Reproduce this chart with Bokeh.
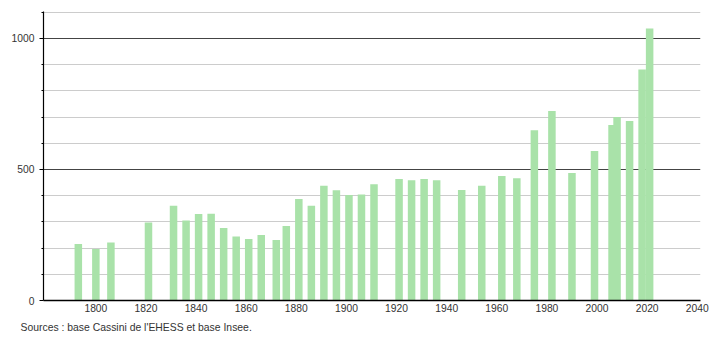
from bokeh.plotting import figure
from bokeh.models import FixedTicker, Range1d, Title
from bokeh.embed import file_html
from bokeh.resources import INLINE

years = [1793, 1800, 1806, 1821, 1831, 1836, 1841, 1846, 1851, 1856, 1861, 1866,
         1872, 1876, 1881, 1886, 1891, 1896, 1901, 1906, 1911, 1921, 1926, 1931,
         1936, 1946, 1954, 1962, 1968, 1975, 1982, 1990, 1999, 2006, 2008, 2013,
         2018, 2021]
population = [216, 197, 221, 298, 362, 305, 330, 331, 277, 244, 235, 250,
              231, 284, 387, 362, 438, 421, 403, 405, 444, 464, 459, 464,
              459, 422, 438, 475, 467, 650, 723, 487, 571, 670, 700, 685,
              882, 1038]
x_ticks = [1800, 1820, 1840, 1860, 1880, 1900, 1920, 1940, 1960, 1980, 2000, 2020, 2040]
y_ticks = [0, 500, 1000]
y_minor = [100, 200, 300, 400, 600, 700, 800, 900, 1100]
source_text = "Sources : base Cassini de l'EHESS et base Insee."

FONT = "Liberation Sans"

p = figure(width=710, height=340, output_backend="svg", toolbar_location=None,
           x_range=Range1d(1779.1, 2041.3), y_range=Range1d(0, 1103),
           min_border_left=43, min_border_right=10, min_border_top=11,
           min_border_bottom=40)
p.outline_line_color = None
p.background_fill_color = "white"
p.border_fill_color = "white"

p.vbar(x=years, top=population, width=3.0, fill_color="#a9e2a9",
       line_color=None)

# x axis
p.xaxis.ticker = FixedTicker(ticks=x_ticks)
p.xaxis.major_tick_out = 0
p.xaxis.major_tick_in = 0
p.xaxis.minor_tick_out = 0
p.xaxis.minor_tick_in = 0
p.xaxis.axis_line_color = "black"
p.xaxis.axis_line_width = 1.5
p.xaxis.major_label_standoff = 3
p.xaxis.major_label_text_font = FONT
p.xaxis.major_label_text_font_size = "10.3px"
p.xaxis.major_label_text_color = "#333333"
p.xgrid.grid_line_color = None

# y axis
p.yaxis.ticker = FixedTicker(ticks=y_ticks, minor_ticks=y_minor)
p.yaxis.major_tick_out = 4
p.yaxis.major_tick_in = 0
p.yaxis.minor_tick_out = 2
p.yaxis.minor_tick_in = 0
p.yaxis.axis_line_color = "black"
p.yaxis.axis_line_width = 1.2
p.yaxis.major_tick_line_color = "black"
p.yaxis.minor_tick_line_color = "black"
p.yaxis.major_label_standoff = 5
p.yaxis.major_label_text_font = FONT
p.yaxis.major_label_text_font_size = "10.3px"
p.yaxis.major_label_text_color = "#333333"

p.ygrid.grid_line_color = "#444444"
p.ygrid.grid_line_width = 1
p.ygrid.minor_grid_line_color = "#cccccc"
p.ygrid.minor_grid_line_width = 1

src = Title(text=source_text, align="left", text_font=FONT,
            text_font_size="10.4px", text_font_style="normal",
            text_color="#333333", offset=-23, standoff=11)
p.add_layout(src, "below")

open("out.html", "w").write(file_html(p, INLINE))
